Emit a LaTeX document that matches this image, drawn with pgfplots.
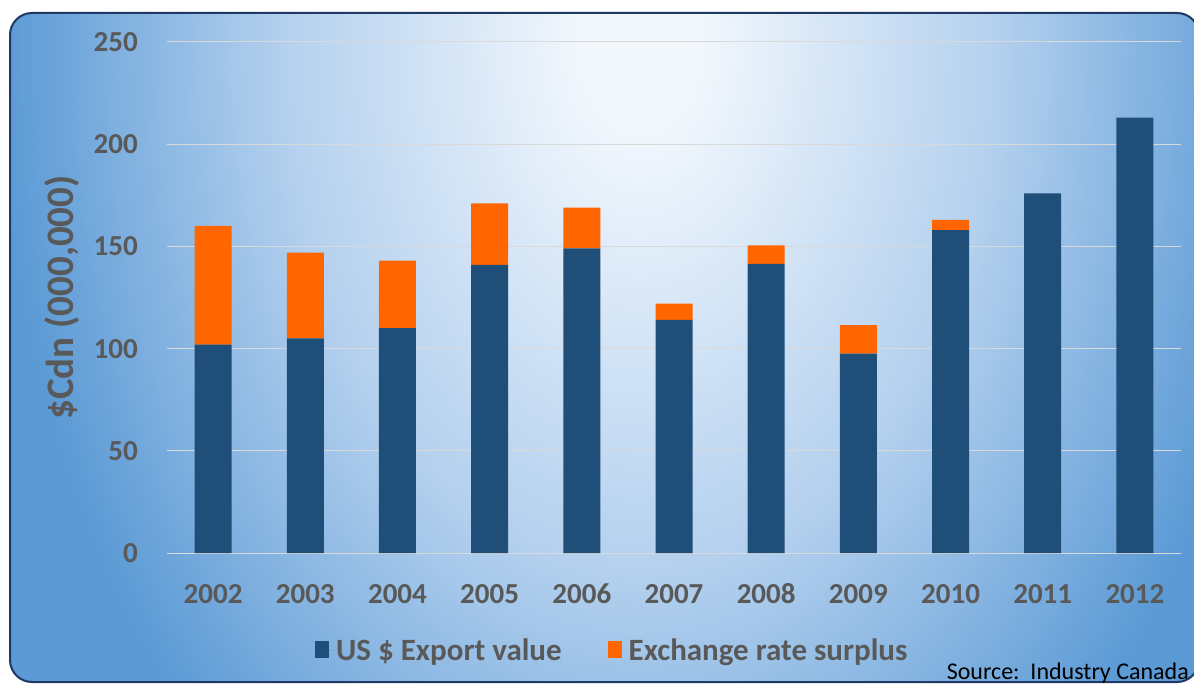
\documentclass[border=0pt]{standalone}
\usepackage{fontspec}
\setmainfont{Carlito}
\usepackage{pgfplots}
\pgfplotsset{compat=1.18}
\definecolor{c0}{HTML}{F3F8FD}
\definecolor{cm}{HTML}{B3D0EE}
\definecolor{c1}{HTML}{5B9AD5}
\definecolor{barblue}{HTML}{1F4E79}
\definecolor{barorange}{HTML}{FF6600}
\definecolor{txtgray}{HTML}{595959}
\definecolor{gridc}{HTML}{D9D9D9}
\definecolor{bordc}{HTML}{1F3864}
\pgfdeclareradialshading{bgshade}{\pgfpoint{0bp}{0bp}}{color(0bp)=(c0); color(2bp)=(c0); color(14bp)=(cm); color(25bp)=(c1); color(50bp)=(c1)}
\begin{document}
\begin{tikzpicture}[x=1pt,y=1pt]
\useasboundingbox (0,0) rectangle (1194,683);
\clip (0,0) rectangle (1194,683);
\fill[white] (0,0) rectangle (1194,683);
\begin{scope}
\clip[rounded corners=22pt] (10,1) rectangle (1199,670);
\fill[c1] (0,-40) rectangle (1230,683);
\shade[shading=bgshade] (640,640) ellipse [x radius=640pt, y radius=950pt];
\end{scope}
\draw[bordc, line width=2pt, rounded corners=22pt] (10,1) rectangle (1199,670);
\begin{axis}[
  at={(167pt,130pt)}, anchor=south west, scale only axis,
  width=1014pt, height=511pt,
  xmin=-0.5, xmax=10.5, ymin=0, ymax=250,
  ybar stacked, bar width=37pt,
  axis line style={draw=none},
  ytick={0,50,...,250}, ymajorgrids, grid style={gridc, line width=1pt},
  major tick length=0pt,
  xtick={0,...,10}, xticklabels={2002,2003,2004,2005,2006,2007,2008,2009,2010,2011,2012},
  /pgf/number format/assume math mode=true,
  ticklabel style={font=\fontsize{29}{34}\selectfont\bfseries, text=txtgray, inner sep=0pt},
  yticklabel style={anchor=east, xshift=-29pt},
  xticklabel style={anchor=base, yshift=-50pt},
  ylabel={\$Cdn (000,000)},
  ylabel style={font=\fontsize{39}{46}\selectfont\bfseries, text=txtgray, at={(axis description cs:-0.1036,0.5)}, anchor=center},
  legend style={draw=none, fill=none, at={(0.143,-0.19)}, anchor=west, legend columns=2,
    font=\fontsize{31}{36}\selectfont\bfseries, text=txtgray,
    /tikz/every even column/.style={column sep=44pt}},
  legend image code/.code={\fill[#1] (0pt,-8pt) rectangle (14pt,9pt); \path (0pt,0pt) -- (19pt,0pt);},
]
\addplot[fill=barblue, draw=none] coordinates {(0,102) (1,105) (2,110) (3,141) (4,149) (5,114) (6,141.5) (7,97.5) (8,158) (9,176) (10,213)};
\addlegendentry{US \$ Export value}
\addplot[fill=barorange, draw=none] coordinates {(0,58) (1,42) (2,33) (3,30) (4,20) (5,8) (6,9) (7,14) (8,5) (9,0) (10,0)};
\addlegendentry{Exchange rate surplus}
\end{axis}
\node[anchor=base east, inner sep=0pt, font=\fontsize{24}{28}\selectfont] at (1189,4) {Source:\ \ Industry Canada};
\end{tikzpicture}
\end{document}
